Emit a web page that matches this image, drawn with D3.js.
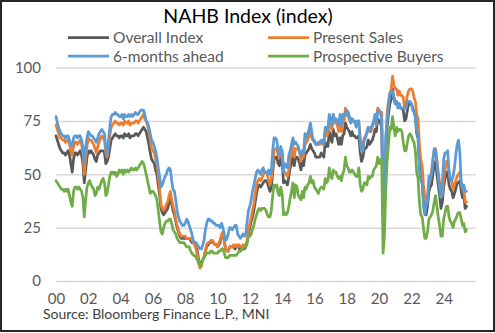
<!DOCTYPE html>
<html>
<head>
<meta charset="utf-8">
<script src="https://cdn.jsdelivr.net/npm/d3@7"></script>
<style>
  body { margin: 0; background: #fff; }
  svg text { font-family: Lato, "Liberation Sans", sans-serif; }
</style>
</head>
<body>
<svg id="chart"></svg>
<script>
// NAHB housing market index and its components, monthly from Jan 2000
const startMonth = new Date(2000, 0, 1);

const overallIndex = [
  68, 66, 64, 62, 61, 60, 60, 59, 60, 61, 59, 55,
  51, 57, 60, 60, 59, 60, 61, 59, 55, 46, 52, 58,
  61, 60, 61, 60, 59, 57, 56, 59, 60, 61, 61, 61,
  60, 55, 56, 58, 62, 66, 67, 68, 69, 68, 68, 67,
  68, 68, 67, 69, 68, 68, 69, 67, 68, 68, 68, 69,
  69, 68, 69, 70, 71, 72, 71, 70, 67, 64, 60, 57,
  56, 55, 52, 50, 45, 40, 34, 32, 31, 32, 33, 34,
  37, 39, 36, 33, 31, 28, 25, 23, 21, 20, 20, 20,
  20, 20, 20, 20, 19, 18, 18, 17, 16, 14, 10, 8,
  8, 10, 11, 14, 16, 17, 18, 18, 19, 18, 17, 17,
  16, 17, 18, 21, 22, 19, 15, 14, 14, 16, 16, 16,
  16, 15, 16, 16, 16, 14, 15, 15, 15, 16, 18, 22,
  25, 28, 30, 33, 37, 41, 44, 45, 44, 45, 46, 47,
  47, 46, 44, 42, 44, 51, 57, 58, 58, 55, 54, 58,
  56, 46, 47, 46, 45, 49, 53, 55, 59, 54, 58, 58,
  57, 55, 52, 56, 54, 59, 60, 61, 62, 64, 62, 61,
  60, 58, 58, 58, 58, 60, 59, 58, 65, 63, 63, 70,
  67, 65, 71, 68, 69, 67, 64, 67, 64, 68, 69, 74,
  72, 71, 70, 68, 70, 68, 68, 67, 67, 68, 60, 56,
  58, 62, 62, 63, 66, 64, 65, 66, 68, 71, 70, 76,
  75, 74, 72, 30, 37, 58, 72, 78, 83, 85, 90, 86,
  83, 84, 82, 83, 81, 81, 80, 75, 76, 80, 83, 84,
  83, 81, 79, 77, 69, 67, 55, 49, 46, 38, 33, 31,
  35, 42, 44, 45, 50, 55, 56, 50, 45, 40, 34, 37,
  44, 48, 51, 51, 45, 43, 42, 39, 41, 43, 46, 46,
  47, 42, 39, 40, 34, 35
];

const presentSales = [
  73, 71, 69, 67, 67, 66, 66, 65, 66, 66, 64, 61,
  59, 63, 65, 65, 64, 65, 66, 64, 60, 50, 57, 63,
  67, 66, 66, 65, 64, 62, 60, 63, 65, 67, 68, 67,
  66, 60, 58, 63, 68, 72, 73, 74, 75, 74, 74, 73,
  74, 74, 73, 75, 74, 74, 75, 73, 74, 74, 74, 75,
  75, 74, 75, 76, 77, 78, 76, 75, 73, 70, 66, 62,
  61, 60, 57, 55, 49, 43, 36, 34, 33, 34, 36, 37,
  40, 42, 38, 35, 33, 29, 26, 24, 22, 21, 21, 21,
  21, 20, 20, 20, 20, 19, 18, 17, 15, 12, 9, 6,
  7, 10, 11, 14, 17, 18, 18, 19, 19, 18, 17, 17,
  16, 18, 19, 22, 23, 19, 15, 14, 14, 16, 16, 16,
  17, 16, 17, 16, 17, 16, 16, 17, 16, 17, 19, 24,
  27, 30, 33, 36, 41, 45, 47, 48, 47, 48, 50, 51,
  51, 50, 47, 45, 48, 54, 61, 62, 62, 59, 58, 62,
  61, 51, 51, 50, 49, 52, 58, 59, 63, 58, 62, 62,
  62, 60, 56, 61, 58, 64, 65, 66, 68, 70, 67, 66,
  66, 64, 64, 64, 64, 65, 64, 64, 71, 68, 69, 76,
  72, 71, 78, 74, 75, 73, 70, 73, 70, 74, 75, 81,
  78, 77, 76, 74, 76, 75, 74, 73, 73, 74, 67, 61,
  64, 67, 68, 69, 72, 71, 70, 72, 74, 77, 76, 81,
  80, 79, 79, 36, 42, 63, 79, 84, 88, 90, 96, 92,
  90, 90, 87, 89, 87, 87, 86, 81, 82, 87, 89, 90,
  90, 89, 86, 84, 78, 76, 64, 57, 54, 45, 39, 36,
  40, 47, 49, 51, 56, 61, 62, 57, 51, 46, 40, 40,
  48, 52, 56, 56, 51, 48, 47, 43, 45, 47, 49, 50,
  51, 46, 43, 43, 37, 37
];

const sixMonthsAhead = [
  77, 74, 72, 70, 69, 68, 68, 67, 68, 68, 66, 64,
  63, 67, 68, 68, 67, 68, 68, 66, 63, 55, 62, 67,
  70, 69, 68, 68, 67, 66, 65, 67, 69, 70, 71, 70,
  69, 62, 59, 66, 72, 77, 78, 78, 79, 78, 78, 77,
  77, 78, 76, 78, 77, 77, 78, 77, 78, 77, 78, 79,
  78, 78, 79, 80, 80, 80, 78, 75, 74, 72, 69, 66,
  65, 63, 61, 58, 53, 49, 44, 45, 47, 49, 50, 52,
  53, 52, 47, 43, 42, 38, 33, 30, 28, 27, 26, 26,
  27, 29, 28, 26, 24, 22, 19, 18, 18, 17, 16, 15,
  15, 17, 19, 24, 27, 29, 29, 28, 28, 27, 27, 26,
  26, 26, 25, 27, 25, 22, 19, 20, 22, 25, 25, 24,
  25, 26, 26, 22, 21, 20, 21, 22, 21, 22, 28, 33,
  35, 38, 42, 45, 48, 51, 52, 51, 50, 52, 53, 51,
  51, 50, 52, 50, 52, 61, 67, 67, 66, 61, 59, 63,
  60, 51, 55, 54, 53, 59, 61, 64, 67, 64, 65, 64,
  63, 60, 59, 61, 60, 69, 67, 69, 71, 74, 70, 66,
  65, 64, 64, 65, 65, 66, 66, 64, 72, 72, 71, 78,
  76, 73, 78, 75, 76, 75, 73, 78, 73, 78, 77, 79,
  80, 79, 77, 74, 76, 75, 75, 72, 75, 75, 65, 61,
  61, 66, 67, 70, 72, 70, 72, 73, 75, 78, 73, 79,
  80, 79, 75, 36, 45, 68, 75, 82, 88, 88, 89, 86,
  83, 84, 81, 83, 81, 81, 81, 81, 81, 84, 84, 84,
  83, 80, 80, 77, 70, 68, 52, 47, 46, 35, 31, 35,
  37, 49, 47, 50, 57, 62, 61, 55, 49, 44, 39, 45,
  57, 60, 60, 61, 51, 47, 47, 49, 53, 59, 64, 66,
  60, 46, 43, 45, 42, 42
];

const prospectiveBuyers = [
  47, 46, 45, 44, 43, 43, 42, 43, 42, 43, 40, 37,
  35, 42, 44, 44, 43, 44, 43, 42, 39, 30, 38, 44,
  46, 47, 45, 44, 43, 40, 41, 44, 43, 45, 47, 48,
  46, 40, 41, 45, 49, 51, 51, 50, 51, 49, 50, 52,
  51, 52, 50, 52, 51, 52, 51, 52, 53, 52, 52, 53,
  52, 53, 54, 55, 56, 55, 53, 50, 47, 44, 41, 42,
  42, 41, 40, 38, 33, 28, 23, 22, 25, 27, 28, 28,
  29, 29, 27, 24, 23, 22, 20, 19, 18, 18, 18, 18,
  17, 16, 16, 16, 14, 13, 12, 12, 11, 10, 8, 7,
  8, 10, 11, 12, 13, 13, 13, 14, 14, 13, 13, 13,
  13, 14, 14, 15, 15, 13, 11, 11, 11, 12, 12, 12,
  12, 12, 12, 13, 14, 14, 15, 15, 16, 16, 18, 21,
  21, 22, 24, 26, 29, 31, 33, 34, 33, 34, 34, 34,
  33, 31, 30, 30, 33, 40, 45, 44, 45, 41, 40, 44,
  41, 31, 32, 31, 32, 35, 39, 42, 46, 39, 45, 44,
  40, 39, 38, 42, 39, 44, 43, 45, 46, 49, 46, 47,
  44, 43, 42, 41, 43, 44, 44, 43, 48, 46, 47, 53,
  49, 48, 52, 51, 51, 49, 48, 49, 47, 50, 52, 58,
  54, 53, 51, 51, 52, 51, 50, 49, 49, 53, 45, 42,
  43, 46, 46, 45, 49, 48, 49, 49, 52, 53, 54, 58,
  55, 57, 56, 13, 21, 43, 56, 64, 72, 71, 77, 72,
  68, 72, 70, 71, 71, 70, 65, 61, 61, 65, 68, 69,
  68, 66, 65, 61, 51, 48, 37, 31, 30, 25, 20, 20,
  23, 29, 30, 31, 33, 37, 40, 35, 30, 26, 21, 21,
  29, 32, 35, 35, 30, 28, 27, 25, 28, 29, 31, 32,
  32, 29, 26, 27, 23, 24
];

const yTicks = [0, 25, 50, 75, 100];
const xTickYears = d3.range(2000, 2026, 2);

const series = [
  { name: "Overall Index", values: overallIndex, color: "#595959" },
  { name: "Present Sales", values: presentSales, color: "#ED7D31" },
  { name: "6-months ahead", values: sixMonthsAhead, color: "#5B9BD5" },
  { name: "Prospective Buyers", values: prospectiveBuyers, color: "#70AD47" }
];

const width = 495, height = 333;
const svg = d3.select("#chart")
    .attr("width", width)
    .attr("height", height);

// outer frame
svg.append("rect")
    .attr("x", 1).attr("y", 1)
    .attr("width", width - 2).attr("height", height - 3)
    .attr("fill", "#fff")
    .attr("stroke", "#262626")
    .attr("stroke-width", 2);

const plot = { left: 56, right: 476, top: 67.5, bottom: 281 };

const x = d3.scaleTime()
    .domain([startMonth, new Date(2026, 0, 1)])
    .range([plot.left, plot.right]);

const y = d3.scaleLinear()
    .domain([0, 100])
    .range([plot.bottom, plot.top]);

// y gridlines + labels
const yAxis = svg.append("g")
    .attr("transform", `translate(${plot.left},0)`)
    .call(d3.axisLeft(y)
        .tickValues(yTicks)
        .tickSize(-(plot.right - plot.left))
        .tickPadding(15));
yAxis.select(".domain").remove();
yAxis.selectAll(".tick line")
    .attr("stroke", "#d9d9d9")
    .attr("stroke-width", 1.5);
yAxis.selectAll(".tick text")
    .attr("fill", "#595959")
    .style("font-size", "15px");

// x labels, two-digit years
const xAxis = svg.append("g")
    .attr("transform", `translate(0,${plot.bottom})`)
    .call(d3.axisBottom(x)
        .tickValues(xTickYears.map(yr => new Date(yr, 0, 1)))
        .tickFormat(d3.timeFormat("%y"))
        .tickSize(0)
        .tickPadding(12));
xAxis.select(".domain").remove();
xAxis.selectAll(".tick text")
    .attr("fill", "#595959")
    .style("font-size", "15px");

// the four lines
const line = d3.line()
    .x((d, i) => x(d3.timeMonth.offset(startMonth, i)))
    .y(d => y(d));

svg.append("g")
    .selectAll("path")
    .data(series)
    .join("path")
    .attr("d", s => line(s.values))
    .attr("fill", "none")
    .attr("stroke", s => s.color)
    .attr("stroke-width", 2.75)
    .attr("stroke-linejoin", "round")
    .attr("stroke-linecap", "round");

// title
svg.append("text")
    .attr("x", 248).attr("y", 23)
    .attr("text-anchor", "middle")
    .attr("fill", "#000")
    .style("font-size", "19.5px")
    .text("NAHB Index (index)");

// legend, two columns
const legend = svg.append("g")
    .selectAll("g")
    .data(series)
    .join("g")
    .attr("transform", (d, i) => `translate(${i % 2 ? 268 : 68},${i < 2 ? 37.5 : 56})`);

legend.append("line")
    .attr("x1", 0).attr("x2", 41)
    .attr("stroke", d => d.color)
    .attr("stroke-width", 2.75);

legend.append("text")
    .attr("x", 45).attr("y", 5.5)
    .attr("fill", "#595959")
    .style("font-size", "15.5px")
    .text(d => d.name);

// source note
svg.append("text")
    .attr("x", 43).attr("y", 319)
    .attr("fill", "#404040")
    .style("font-size", "14px")
    .text("Source: Bloomberg Finance L.P., MNI");
</script>
</body>
</html>
